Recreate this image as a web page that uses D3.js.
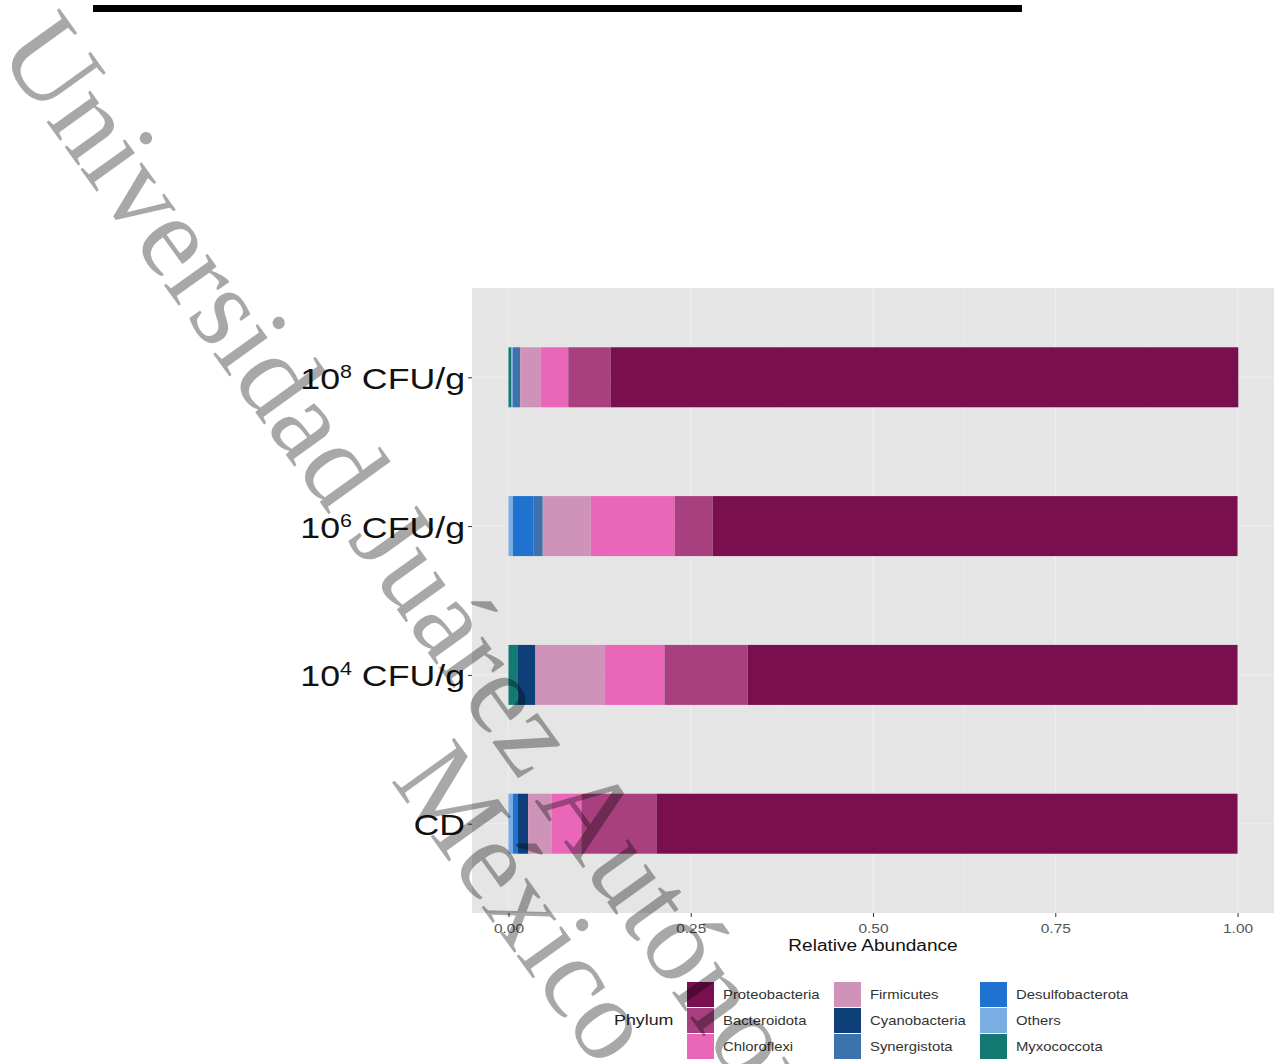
<!DOCTYPE html>
<html>
<head>
<meta charset="utf-8">
<script src="https://cdn.jsdelivr.net/npm/d3@7"></script>
<style>
  html, body { margin: 0; padding: 0; background: #ffffff; }
  svg { display: block; }
</style>
</head>
<body>
<svg id="chart" width="1279" height="1064"></svg>
<script>
// ---------------- DATA ----------------
const categories = ["10^8", "10^6", "10^4", "CD"];           // top to bottom
const categoryBase = ["10", "10", "10", "CD"];
const categorySup = ["8", "6", "4", ""];
const categoryRest = [" CFU/g", " CFU/g", " CFU/g", ""];

const phyla = ["Proteobacteria", "Bacteroidota", "Chloroflexi", "Firmicutes",
               "Cyanobacteria", "Synergistota", "Desulfobacterota", "Others", "Myxococcota"];
const phylumColors = ["#7a0f4f", "#a8407f", "#ea66b9", "#cf93b9",
                      "#0e3f78", "#3c72ae", "#1f72cf", "#7aaee3", "#137a73"];

// values per category, in the order of `categories`
const Proteobacteria   = [0.861, 0.720, 0.672, 0.797];
const Bacteroidota     = [0.058, 0.052, 0.114, 0.103];
const Chloroflexi      = [0.038, 0.115, 0.082, 0.041];
const Firmicutes       = [0.028, 0.066, 0.095, 0.032];
const Cyanobacteria    = [0.000, 0.000, 0.024, 0.014];
const Synergistota     = [0.010, 0.013, 0.000, 0.000];
const Desulfobacterota = [0.000, 0.028, 0.000, 0.007];
const Others           = [0.002, 0.006, 0.000, 0.006];
const Myxococcota      = [0.004, 0.000, 0.013, 0.000];

const xTicks = [0, 0.25, 0.5, 0.75, 1.0];
const xTickLabels = ["0.00", "0.25", "0.50", "0.75", "1.00"];
const xTitle = "Relative Abundance";
const legendTitle = "Phylum";
const watermark1 = "Universidad Juárez Autónoma de Tabasco";
const watermark2 = "México";

// ---------------- BUILD TABLE ----------------
const series = {Proteobacteria, Bacteroidota, Chloroflexi, Firmicutes, Cyanobacteria,
                Synergistota, Desulfobacterota, Others, Myxococcota};
const table = categories.map((c, i) => {
  const row = {cat: c};
  phyla.forEach(p => row[p] = series[p][i]);
  return row;
});
const color = d3.scaleOrdinal().domain(phyla).range(phylumColors);

// ---------------- LAYOUT ----------------
const SX = 1.19; // horizontal stretch of text seen in the picture
const svg = d3.select("#chart");
const panel = {x0: 472, x1: 1274, y0: 288, y1: 913};

const x = d3.scaleLinear().domain([-0.05, 1.05]).range([panel.x0, panel.x1]);
const y = d3.scalePoint().domain(categories).range([panel.y0, panel.y1]).padding(0.6);
const barH = 60;

// top black rule
svg.append("rect").attr("x", 93).attr("y", 5).attr("width", 929).attr("height", 7).attr("fill", "#000");

// panel background
svg.append("rect").attr("x", panel.x0).attr("y", panel.y0)
  .attr("width", panel.x1 - panel.x0).attr("height", panel.y1 - panel.y0)
  .attr("fill", "#e5e5e5");

// grid lines
const grid = svg.append("g");
grid.selectAll("line.vmin").data([0.125, 0.375, 0.625, 0.875]).join("line")
  .attr("x1", d => x(d)).attr("x2", d => x(d)).attr("y1", panel.y0).attr("y2", panel.y1)
  .attr("stroke", "#e9e9e9").attr("stroke-width", 1);
grid.selectAll("line.vmaj").data(xTicks).join("line")
  .attr("x1", d => x(d)).attr("x2", d => x(d)).attr("y1", panel.y0).attr("y2", panel.y1)
  .attr("stroke", "#ececec").attr("stroke-width", 1.5);
grid.selectAll("line.hmaj").data(categories).join("line")
  .attr("x1", panel.x0).attr("x2", panel.x1).attr("y1", d => y(d)).attr("y2", d => y(d))
  .attr("stroke", "#ececec").attr("stroke-width", 1.5);

// stacked bars (first level stacked at the right end, as in ggplot)
const stackKeys = phyla.slice().reverse();
const stacked = d3.stack().keys(stackKeys)(table);
svg.append("g").selectAll("g").data(stacked).join("g")
  .attr("fill", d => color(d.key))
  .selectAll("rect").data(d => d).join("rect")
  .attr("x", d => x(d[0]))
  .attr("width", d => Math.max(0, x(d[1]) - x(d[0])))
  .attr("y", d => y(d.data.cat) - barH / 2)
  .attr("height", barH);

// x axis
const xAxis = svg.append("g").attr("transform", `translate(0,${panel.y1})`)
  .call(d3.axisBottom(x).tickValues(xTicks).tickSize(4).tickPadding(3)
        .tickFormat((d, i) => xTickLabels[i]));
xAxis.select(".domain").remove();
xAxis.selectAll(".tick line").attr("stroke", "#333").attr("stroke-width", 1);
xAxis.selectAll(".tick text")
  .attr("fill", "#555").attr("font-family", "Liberation Sans, Arial, sans-serif")
  .attr("font-size", 13).attr("y", 0).attr("dy", 0)
  .attr("transform", `translate(0,20) scale(${SX},1)`);

// y axis
const yAxis = svg.append("g").attr("transform", `translate(${panel.x0},0)`)
  .call(d3.axisLeft(y).tickSize(4).tickPadding(3).tickFormat(() => ""));
yAxis.select(".domain").remove();
yAxis.selectAll(".tick line").attr("stroke", "#333").attr("stroke-width", 1);
yAxis.selectAll(".tick text").each(function(d, i) {
  const t = d3.select(this)
    .attr("x", 0).attr("dy", 0)
    .attr("transform", `translate(-7,11) scale(${SX},1)`)
    .attr("fill", "#111").attr("font-family", "Liberation Sans, Arial, sans-serif")
    .attr("font-size", 30).attr("text-anchor", "end");
  t.text(null);
  t.append("tspan").text(categoryBase[i]);
  if (categorySup[i]) {
    t.append("tspan").attr("font-size", 18).attr("dy", -11).text(categorySup[i]);
    t.append("tspan").attr("dy", 11).text(categoryRest[i]);
  }
});

// x axis title
svg.append("g").attr("transform", `translate(${(x(0) + x(1)) / 2},951) scale(${SX},1)`)
  .append("text").attr("text-anchor", "middle")
  .attr("font-family", "Liberation Sans, Arial, sans-serif").attr("font-size", 16)
  .attr("fill", "#111").text(xTitle);

// legend
const leg = svg.append("g");
leg.append("g").attr("transform", `translate(614,1025) scale(${SX},1)`)
  .append("text").attr("font-family", "Liberation Sans, Arial, sans-serif")
  .attr("font-size", 15).attr("fill", "#222").text(legendTitle);
const colX = [687, 834, 980];
const rowY = [982, 1008, 1034];
phyla.forEach((p, i) => {
  const c = Math.floor(i / 3), r = i % 3;
  leg.append("rect").attr("x", colX[c]).attr("y", rowY[r]).attr("width", 27).attr("height", 25)
    .attr("fill", color(p));
  leg.append("g").attr("transform", `translate(${colX[c] + 36},${rowY[r] + 17}) scale(${SX},1)`)
    .append("text").attr("font-family", "Liberation Sans, Arial, sans-serif")
    .attr("font-size", 12.5).attr("fill", "#333").text(p);
});

// watermark overlay
const wm = svg.append("g").attr("transform", "translate(51,63) rotate(54.3)")
  .attr("font-family", "'Liberation Serif', 'Times New Roman', serif")
  .attr("font-size", 117)
  .attr("fill", "#000").attr("fill-opacity", 0.34);
wm.append("text").attr("x", -42).attr("y", 38).text(watermark1);
wm.append("text").attr("x", 780).attr("y", 143).text(watermark2);
</script>
</body>
</html>
